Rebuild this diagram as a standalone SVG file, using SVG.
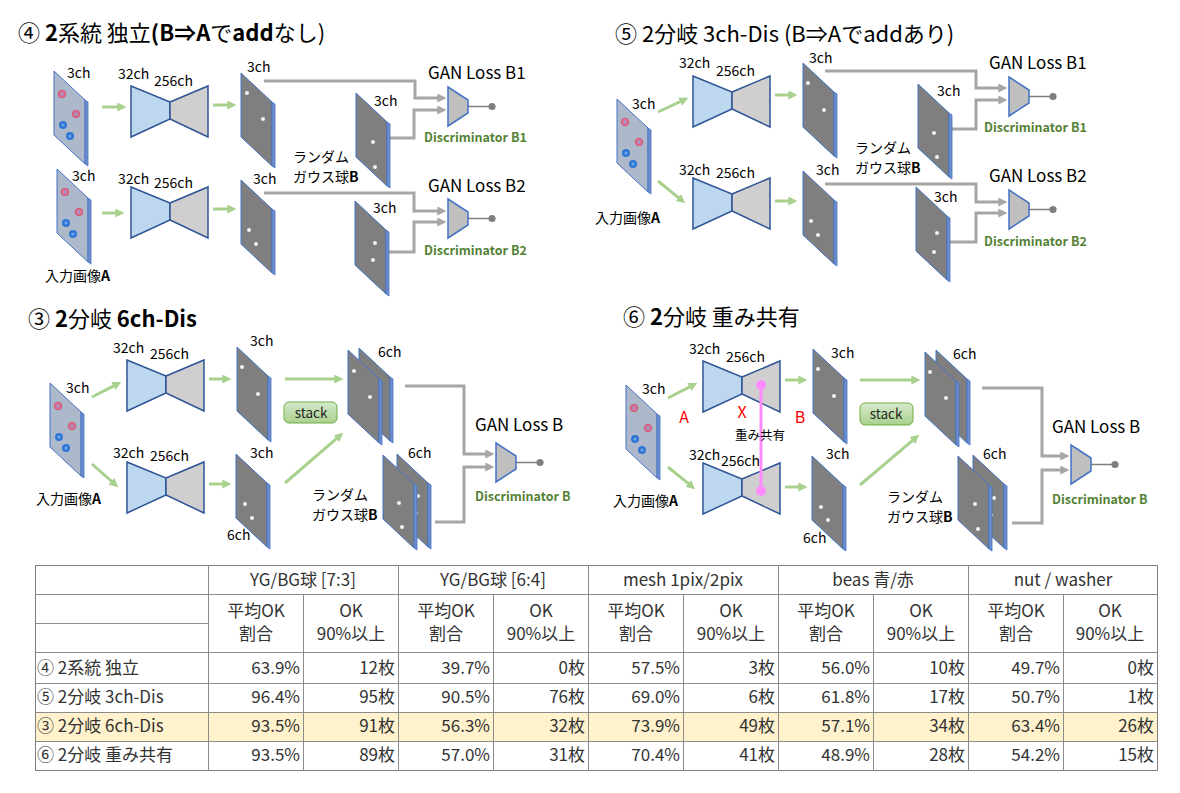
<svg xmlns="http://www.w3.org/2000/svg" xmlns:xlink="http://www.w3.org/1999/xlink" width="1180" height="793" viewBox="0 0 1180 793">
<style>
text{font-family:"Noto Sans CJK JP","Noto Sans",sans-serif;fill:#000}
.title{font-size:22px}
.lbl{font-size:14px}
.jp{font-size:14px}
.gan{font-size:17px}
.disc{font-size:12.5px;font-weight:bold;fill:#548235}
.red{font-size:16px;fill:#FF0000;text-anchor:middle}
.b{font-weight:bold}
.sb{font-weight:600}
.green{stroke:#A9D18E;stroke-width:3;fill:none;marker-end:url(#ag)}
.gray{stroke:#A6A6A6;stroke-width:3;fill:none;marker-end:url(#ar)}
.inpf{fill:#ADB9CA;stroke:#4472C4;stroke-width:1}
.drk{fill:#7F7F7F;stroke:#4472C4;stroke-width:1}
.strip{fill:#6F8FCC;stroke:#4472C4;stroke-width:0.8}
.wd{fill:#F2F2F2}
.enc{fill:#BDD7EE;stroke:#2F5597;stroke-width:1.5}
.dec{fill:#D0CECE;stroke:#2F5597;stroke-width:1.5}
.dsc{fill:#BFBFBF;stroke:#4472C4;stroke-width:1.5}
.stk{fill:url(#sg);stroke:#70AD47;stroke-width:1}
.stxt{font-size:13.5px;text-anchor:middle;fill:#262626}
.tb text{font-size:17px;fill:#333}
.tl{stroke:#8C8C8C;stroke-width:1;fill:none}
.c{text-anchor:middle}
.r{text-anchor:end}
</style>
<defs>
<marker id="ag" viewBox="0 0 10 10" refX="3" refY="5" markerWidth="3" markerHeight="3" orient="auto"><path d="M0,0 L10,5 L0,10 z" fill="#A9D18E"/></marker>
<marker id="ar" viewBox="0 0 10 10" refX="3" refY="5" markerWidth="3" markerHeight="3" orient="auto"><path d="M0,0 L10,5 L0,10 z" fill="#A6A6A6"/></marker>
<linearGradient id="sg" x1="0" y1="0" x2="0" y2="1"><stop offset="0" stop-color="#D6EACB"/><stop offset="1" stop-color="#A9D18E"/></linearGradient>
<g id="slab"><polygon points="0,0 31,29 31,93 0,64"/><polygon class="strip" points="31,29 34,31 34,95 31,93"/></g>
<g id="rdot"><circle r="3.8" fill="#E46C8C" stroke="#C04060" stroke-width="0.6"/><circle r="1.6" fill="#8E9BD6"/></g>
<g id="bdot"><circle r="4" fill="#2E75D6"/><circle r="1.6" fill="#6FA8E8"/></g>
<g id="inp"><use xlink:href="#slab" class="inpf"/><use xlink:href="#rdot" x="8" y="23"/><use xlink:href="#rdot" x="22" y="43"/><use xlink:href="#bdot" x="9" y="54"/><use xlink:href="#bdot" x="16" y="65"/></g>
<g id="bow"><polygon class="enc" points="0,0 39,16 39,33 0,51"/><polygon class="dec" points="39,16 77,0 77,51 39,33"/></g>
<g id="dis"><line x1="20" y1="19.5" x2="44" y2="19.5" stroke="#7F7F7F" stroke-width="1.5"/><polygon class="dsc" points="0,0 20,13 20,26 0,39"/><circle cx="44" cy="19.5" r="3.6" fill="#7F7F7F"/></g>
</defs>
<rect width="1180" height="793" fill="#FFFFFF"/>

<!-- Titles -->
<g id="titles">
<text class="title" x="18" y="41">④ <tspan class="sb">2</tspan>系統 独立<tspan class="sb">(B⇒A</tspan>で<tspan class="sb">add</tspan>なし)</text>
<text class="title" x="615" y="42">⑤ 2分岐 3ch-Dis (B⇒Aでaddあり)</text>
<text class="title" x="28" y="327">③ <tspan class="sb">2</tspan>分岐 <tspan class="sb">6ch-Dis</tspan></text>
<text class="title" x="623" y="325">⑥ <tspan class="sb">2</tspan>分岐 重み共有</text>
</g>

<!-- Connectors -->
<g id="connectors">
<path class="green" d="M102,107 H120"/>
<path class="green" d="M213,105 H230"/>
<path class="green" d="M102,213 H118"/>
<path class="green" d="M213,209 H230"/>
<path class="gray" d="M264,81 H415 V98 H440"/>
<path class="gray" d="M387,138 H414 V110 H440"/>
<path class="gray" d="M264,193 H414 V211 H440"/>
<path class="gray" d="M386,252 H414 V222 H440"/>

<path class="green" d="M658,112 L682.6,100.5"/>
<path class="green" d="M658,181 L680.3,199.2"/>
<path class="green" d="M775,95 H791"/>
<path class="green" d="M775,201 H791"/>
<path class="gray" d="M825,71 H976 V88 H1001"/>
<path class="gray" d="M947,129 H976 V100 H1001"/>
<path class="gray" d="M825,184 H976 V202 H1001"/>
<path class="gray" d="M947,242 H976 V213 H1001"/>

<path class="green" d="M92,397 L115.7,384.8"/>
<path class="green" d="M92,464 L113.5,483"/>
<path class="green" d="M209,379 H225"/>
<path class="green" d="M209,484 H225"/>
<path class="green" d="M285,379 H337"/>
<path class="green" d="M285,483 L338.5,436.9"/>
<path class="gray" d="M405,386 H464 V454 H488"/>
<path class="gray" d="M435,522 H464 V467 H488"/>

<path class="green" d="M668,398 L691.7,385.8"/>
<path class="green" d="M668,467 L690.3,485.2"/>
<path class="green" d="M785,380 H801"/>
<path class="green" d="M785,487 H801"/>
<path class="green" d="M860,380 H914"/>
<path class="green" d="M860,485 L914.4,438.9"/>
<path class="gray" d="M982,388 H1042 V456 H1063"/>
<path class="gray" d="M1012,523 H1042 V470 H1063"/>
</g>

<!-- Panel 4 -->
<g id="inp4a"><use xlink:href="#inp" x="54" y="71"/><text class="lbl" x="67" y="78">3ch</text></g>
<g id="enc4a"><use xlink:href="#bow" x="131" y="86"/><text class="lbl" x="118" y="79">32ch</text><text class="lbl" x="154" y="86">256ch</text></g>
<g id="out4a"><use xlink:href="#slab" class="drk" x="241" y="73"/><circle class="wd" cx="247" cy="93" r="2"/><circle class="wd" cx="263" cy="119" r="2"/><text class="lbl" x="247" y="72">3ch</text></g>
<g id="rnd4a"><use xlink:href="#slab" class="drk" x="356" y="93"/><circle class="wd" cx="373" cy="142" r="2"/><circle class="wd" cx="375" cy="167" r="2"/><text class="lbl" x="374" y="106">3ch</text></g>
<g id="dis4a"><use xlink:href="#dis" x="448" y="87"/><text class="gan" x="428" y="79">GAN Loss B1</text><text class="disc" x="424" y="142">Discriminator B1</text></g>
<g id="inp4b"><use xlink:href="#inp" x="57" y="169"/><text class="lbl" x="72" y="181">3ch</text><text class="jp" x="45" y="281">入力画像<tspan class="b">A</tspan></text></g>
<g id="enc4b"><use xlink:href="#bow" x="131" y="187"/><text class="lbl" x="118" y="184">32ch</text><text class="lbl" x="154" y="188">256ch</text></g>
<g id="out4b"><use xlink:href="#slab" class="drk" x="241" y="180"/><circle class="wd" cx="249" cy="230" r="2"/><circle class="wd" cx="256" cy="244" r="2"/><text class="lbl" x="253" y="184">3ch</text></g>
<g id="rnd4b"><use xlink:href="#slab" class="drk" x="355" y="201"/><circle class="wd" cx="375" cy="243" r="2"/><circle class="wd" cx="373" cy="260" r="2"/><text class="lbl" x="373" y="213">3ch</text><text class="jp" x="293" y="162">ランダム</text><text class="jp" x="293" y="182">ガウス球<tspan class="b">B</tspan></text></g>
<g id="dis4b"><use xlink:href="#dis" x="448" y="199"/><text class="gan" x="428" y="192">GAN Loss B2</text><text class="disc" x="424" y="255">Discriminator B2</text></g>

<!-- Panel 5 -->
<g id="inp5"><use xlink:href="#inp" x="617" y="99"/><text class="lbl" x="632" y="109">3ch</text><text class="jp" x="595" y="223">入力画像<tspan class="b">A</tspan></text></g>
<g id="enc5a"><use xlink:href="#bow" x="693" y="76"/><text class="lbl" x="679" y="68">32ch</text><text class="lbl" x="716" y="76">256ch</text></g>
<g id="enc5b"><use xlink:href="#bow" x="693" y="178"/><text class="lbl" x="679" y="175">32ch</text><text class="lbl" x="716" y="178">256ch</text></g>
<g id="out5a"><use xlink:href="#slab" class="drk" x="803" y="63"/><circle class="wd" cx="808" cy="83" r="2"/><circle class="wd" cx="824" cy="110" r="2"/><text class="lbl" x="809" y="63">3ch</text></g>
<g id="out5b"><use xlink:href="#slab" class="drk" x="803" y="171"/><circle class="wd" cx="811" cy="221" r="2"/><circle class="wd" cx="818" cy="235" r="2"/><text class="lbl" x="816" y="175">3ch</text></g>
<g id="rnd5a"><use xlink:href="#slab" class="drk" x="918" y="84"/><circle class="wd" cx="934" cy="133" r="2"/><circle class="wd" cx="937" cy="157" r="2"/><text class="lbl" x="937" y="96">3ch</text><text class="jp" x="855" y="153">ランダム</text><text class="jp" x="855" y="173">ガウス球<tspan class="b">B</tspan></text></g>
<g id="rnd5b"><use xlink:href="#slab" class="drk" x="916" y="187"/><circle class="wd" cx="937" cy="233" r="2"/><circle class="wd" cx="934" cy="252" r="2"/><text class="lbl" x="934" y="202">3ch</text></g>
<g id="dis5a"><use xlink:href="#dis" x="1009" y="77"/><text class="gan" x="989" y="69">GAN Loss B1</text><text class="disc" x="984" y="132">Discriminator B1</text></g>
<g id="dis5b"><use xlink:href="#dis" x="1009" y="190"/><text class="gan" x="989" y="182">GAN Loss B2</text><text class="disc" x="984" y="246">Discriminator B2</text></g>

<!-- Panel 3 -->
<g id="inp3"><use xlink:href="#inp" x="50" y="383"/><text class="lbl" x="66" y="393">3ch</text><text class="jp" x="36" y="504">入力画像<tspan class="b">A</tspan></text></g>
<g id="enc3a"><use xlink:href="#bow" x="127" y="360"/><text class="lbl" x="113" y="353">32ch</text><text class="lbl" x="150" y="359">256ch</text></g>
<g id="enc3b"><use xlink:href="#bow" x="127" y="462"/><text class="lbl" x="113" y="458">32ch</text><text class="lbl" x="150" y="461">256ch</text></g>
<g id="out3a"><use xlink:href="#slab" class="drk" x="237" y="347"/><circle class="wd" cx="242" cy="367" r="2"/><circle class="wd" cx="258" cy="394" r="2"/><text class="lbl" x="250" y="346">3ch</text></g>
<g id="out3b"><use xlink:href="#slab" class="drk" x="236" y="454"/><circle class="wd" cx="245" cy="504" r="2"/><circle class="wd" cx="252" cy="518" r="2"/><text class="lbl" x="250" y="458">3ch</text><text class="lbl" x="227" y="540">6ch</text></g>
<g id="stack3"><rect class="stk" x="284" y="402" width="53" height="21" rx="5"/><text class="stxt" x="311" y="418">stack</text></g>
<g id="st3"><use xlink:href="#slab" class="drk" x="359" y="348"/><use xlink:href="#slab" class="drk" x="348" y="350"/><circle class="wd" cx="354" cy="371" r="2"/><circle class="wd" cx="370" cy="397" r="2"/><text class="lbl" x="378" y="357">6ch</text></g>
<g id="rnd3"><use xlink:href="#slab" class="drk" x="397" y="454"/><circle class="wd" cx="418" cy="496" r="2"/><circle class="wd" cx="416" cy="513" r="2"/><use xlink:href="#slab" class="drk" x="383" y="455"/><circle class="wd" cx="399" cy="503" r="2"/><circle class="wd" cx="402" cy="527" r="2"/><text class="lbl" x="408" y="458">6ch</text><text class="jp" x="312" y="500">ランダム</text><text class="jp" x="312" y="520">ガウス球<tspan class="b">B</tspan></text></g>
<g id="dis3"><use xlink:href="#dis" x="496" y="443"/><text class="gan" x="475" y="431">GAN Loss B</text><text class="disc" x="475" y="501">Discriminator B</text></g>

<!-- Panel 6 -->
<g id="inp6"><use xlink:href="#inp" x="626" y="385"/><text class="lbl" x="642" y="394">3ch</text><text class="jp" x="613" y="506">入力画像<tspan class="b">A</tspan></text></g>
<g id="enc6a"><use xlink:href="#bow" x="703" y="361"/><text class="lbl" x="689" y="354">32ch</text><text class="lbl" x="726" y="362">256ch</text></g>
<g id="enc6b"><use xlink:href="#bow" x="703" y="463"/><text class="lbl" x="689" y="460">32ch</text><text class="lbl" x="721" y="466">256ch</text></g>
<g id="share6"><line x1="761" y1="385" x2="761" y2="491" stroke="#FF8CFF" stroke-width="3"/><circle cx="761" cy="385" r="5" fill="#FF8CFF"/><circle cx="761" cy="491" r="5" fill="#FF8CFF"/><text x="735" y="440" style="font-size:12.5px">重み共有</text><text class="red" x="684" y="423">A</text><text class="red" x="742" y="418">X</text><text class="red" x="800" y="423">B</text></g>
<g id="out6a"><use xlink:href="#slab" class="drk" x="813" y="349"/><circle class="wd" cx="818" cy="369" r="2"/><circle class="wd" cx="834" cy="396" r="2"/><text class="lbl" x="831" y="358">3ch</text></g>
<g id="out6b"><use xlink:href="#slab" class="drk" x="812" y="456"/><circle class="wd" cx="821" cy="507" r="2"/><circle class="wd" cx="828" cy="520" r="2"/><text class="lbl" x="826" y="459">3ch</text><text class="lbl" x="803" y="543">6ch</text></g>
<g id="stack6"><rect class="stk" x="860" y="403" width="53" height="22" rx="5"/><text class="stxt" x="886" y="419">stack</text></g>
<g id="st6"><use xlink:href="#slab" class="drk" x="936" y="350"/><use xlink:href="#slab" class="drk" x="925" y="352"/><circle class="wd" cx="930" cy="372" r="2"/><circle class="wd" cx="946" cy="398" r="2"/><text class="lbl" x="953" y="359">6ch</text></g>
<g id="rnd6"><use xlink:href="#slab" class="drk" x="973" y="455"/><circle class="wd" cx="994" cy="498" r="2"/><circle class="wd" cx="991" cy="515" r="2"/><use xlink:href="#slab" class="drk" x="958" y="456"/><circle class="wd" cx="975" cy="504" r="2"/><circle class="wd" cx="978" cy="529" r="2"/><text class="lbl" x="983" y="459">6ch</text><text class="jp" x="887" y="502">ランダム</text><text class="jp" x="887" y="522">ガウス球<tspan class="b">B</tspan></text></g>
<g id="dis6"><use xlink:href="#dis" x="1071" y="445"/><text class="gan" x="1052" y="433">GAN Loss B</text><text class="disc" x="1052" y="504">Discriminator B</text></g>

<!-- Table -->
<g id="table" class="tb">
<rect x="35.5" y="712.5" width="1122" height="29" fill="#FFF2CC"/>
<rect class="tl" x="35.5" y="565.5" width="1122" height="205" style="stroke:#7F7F7F"/>
<path class="tl" d="M35.5,594.5 H1157.5 M35.5,623.5 H208.5 M35.5,652.5 H1157.5 M35.5,683.5 H1157.5 M35.5,712.5 H1157.5 M35.5,741.5 H1157.5"/>
<path class="tl" d="M208.5,565.5 V770.5 M398.5,565.5 V770.5 M588.5,565.5 V770.5 M778.5,565.5 V770.5 M968.5,565.5 V770.5 M303.5,594.5 V770.5 M493.5,594.5 V770.5 M683.5,594.5 V770.5 M873.5,594.5 V770.5 M1063.5,594.5 V770.5"/>
<text class="c" x="303" y="586">YG/BG球 [7:3]</text>
<text class="c" x="493" y="586">YG/BG球 [6:4]</text>
<text class="c" x="683" y="586">mesh 1pix/2pix</text>
<text class="c" x="873" y="586">beas 青/赤</text>
<text class="c" x="1063" y="586">nut / washer</text>
<text class="c" x="256" y="617">平均OK</text><text class="c" x="256" y="640">割合</text>
<text class="c" x="351" y="617">OK</text><text class="c" x="351" y="640">90%以上</text>
<text class="c" x="446" y="617">平均OK</text><text class="c" x="446" y="640">割合</text>
<text class="c" x="541" y="617">OK</text><text class="c" x="541" y="640">90%以上</text>
<text class="c" x="636" y="617">平均OK</text><text class="c" x="636" y="640">割合</text>
<text class="c" x="731" y="617">OK</text><text class="c" x="731" y="640">90%以上</text>
<text class="c" x="826" y="617">平均OK</text><text class="c" x="826" y="640">割合</text>
<text class="c" x="921" y="617">OK</text><text class="c" x="921" y="640">90%以上</text>
<text class="c" x="1016" y="617">平均OK</text><text class="c" x="1016" y="640">割合</text>
<text class="c" x="1110" y="617">OK</text><text class="c" x="1110" y="640">90%以上</text>

<text x="37" y="674">④ 2系統 独立</text>
<text class="r" x="300" y="674">63.9%</text><text class="r" x="395" y="674">12枚</text><text class="r" x="490" y="674">39.7%</text><text class="r" x="585" y="674">0枚</text><text class="r" x="680" y="674">57.5%</text><text class="r" x="775" y="674">3枚</text><text class="r" x="870" y="674">56.0%</text><text class="r" x="965" y="674">10枚</text><text class="r" x="1060" y="674">49.7%</text><text class="r" x="1154" y="674">0枚</text>

<text x="37" y="703">⑤ 2分岐 3ch-Dis</text>
<text class="r" x="300" y="703">96.4%</text><text class="r" x="395" y="703">95枚</text><text class="r" x="490" y="703">90.5%</text><text class="r" x="585" y="703">76枚</text><text class="r" x="680" y="703">69.0%</text><text class="r" x="775" y="703">6枚</text><text class="r" x="870" y="703">61.8%</text><text class="r" x="965" y="703">17枚</text><text class="r" x="1060" y="703">50.7%</text><text class="r" x="1154" y="703">1枚</text>

<text x="37" y="732">③ 2分岐 6ch-Dis</text>
<text class="r" x="300" y="732">93.5%</text><text class="r" x="395" y="732">91枚</text><text class="r" x="490" y="732">56.3%</text><text class="r" x="585" y="732">32枚</text><text class="r" x="680" y="732">73.9%</text><text class="r" x="775" y="732">49枚</text><text class="r" x="870" y="732">57.1%</text><text class="r" x="965" y="732">34枚</text><text class="r" x="1060" y="732">63.4%</text><text class="r" x="1154" y="732">26枚</text>

<text x="37" y="761">⑥ 2分岐 重み共有</text>
<text class="r" x="300" y="761">93.5%</text><text class="r" x="395" y="761">89枚</text><text class="r" x="490" y="761">57.0%</text><text class="r" x="585" y="761">31枚</text><text class="r" x="680" y="761">70.4%</text><text class="r" x="775" y="761">41枚</text><text class="r" x="870" y="761">48.9%</text><text class="r" x="965" y="761">28枚</text><text class="r" x="1060" y="761">54.2%</text><text class="r" x="1154" y="761">15枚</text>
</g>
</svg>
